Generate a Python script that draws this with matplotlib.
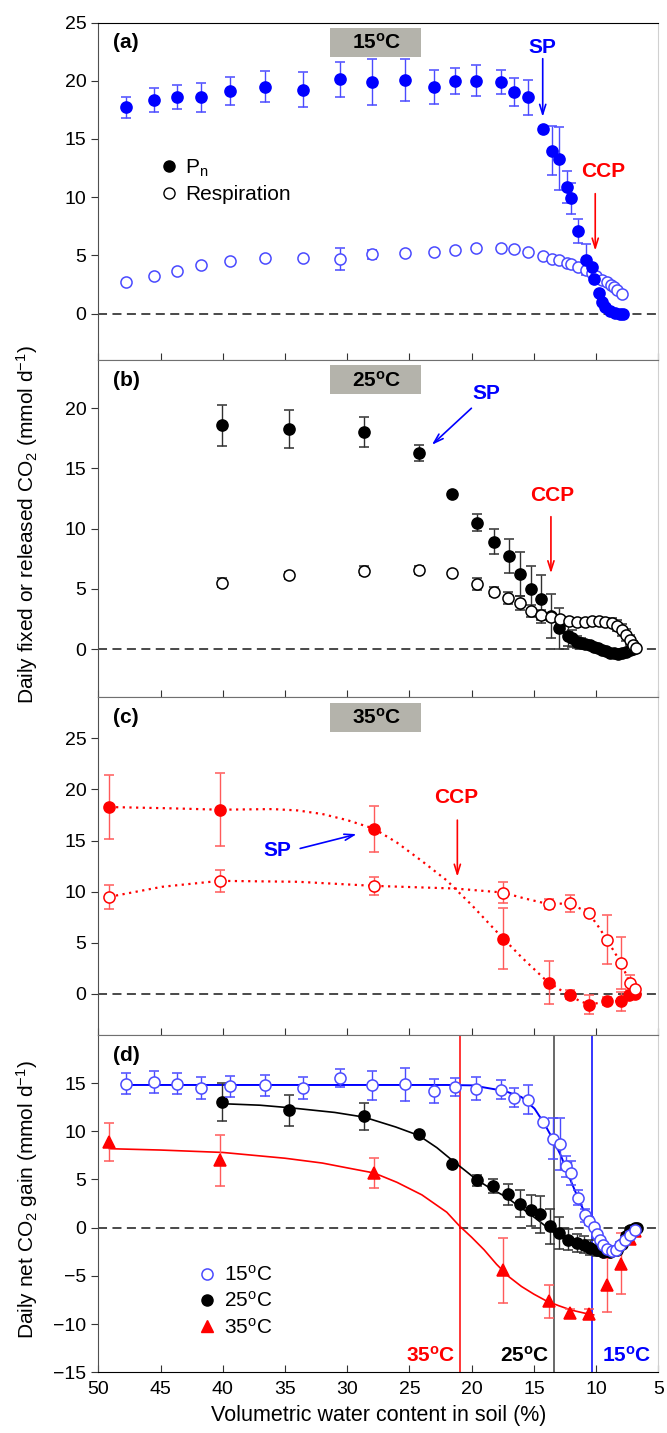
import matplotlib
matplotlib.use("Agg")
import matplotlib.pyplot as plt
from matplotlib.patches import Rectangle
from matplotlib.lines import Line2D

plt.rcParams['font.family'] = ['Liberation Sans', 'DejaVu Sans']
plt.rcParams['mathtext.fontset'] = 'custom'
plt.rcParams['mathtext.rm'] = 'Liberation Sans'
plt.rcParams['mathtext.it'] = 'Liberation Sans:italic'
plt.rcParams['mathtext.bf'] = 'Liberation Sans:bold'

# ---- (a) 15 C : Pn et respiration
a_pn_x = [47.75, 45.49, 43.65, 41.74, 39.42, 36.58, 33.58, 30.61, 27.98, 25.32, 23.06, 21.32,
          19.65, 17.67, 16.58, 15.47, 14.29, 13.55, 12.97, 12.31, 12.05, 11.47, 10.78, 10.33,
          10.15, 9.80, 9.54, 9.27, 8.88, 8.48, 8.09, 7.83]
a_pn_y = [17.72, 18.35, 18.60, 18.58, 19.12, 19.50, 19.24, 20.13, 19.90, 20.07, 19.50, 19.98,
          20.02, 19.90, 19.06, 18.57, 15.90, 13.98, 13.32, 10.89, 9.89, 7.10, 4.64, 4.00,
          3.00, 1.72, 1.00, 0.57, 0.23, 0.05, -0.06, -0.06]
a_pn_err = [0.9, 1.0, 1.0, 1.26, 1.23, 1.35, 1.48, 1.52, 1.96, 1.82, 1.46, 1.1,
            1.36, 1.0, 1.2, 1.5, 0.15, 2.1, 2.7, 1.4, 1.3, 1.0, 1.3, 0.2,
            0.2, 0.15, 0.1, 0.1, 0.1, 0.1, 0.1, 0.1]
a_r_x = [47.75, 45.49, 43.65, 41.74, 39.42, 36.58, 33.58, 30.61, 27.98, 25.32, 23.06, 21.32,
         19.65, 17.67, 16.58, 15.47, 14.29, 13.55, 12.97, 12.31, 12.05, 11.47, 10.78, 10.33,
         9.99, 9.54, 9.14, 8.82, 8.56, 8.30, 7.95]
a_r_y = [2.72, 3.24, 3.67, 4.13, 4.47, 4.76, 4.79, 4.67, 5.10, 5.16, 5.30, 5.45,
         5.64, 5.64, 5.53, 5.30, 4.98, 4.72, 4.58, 4.35, 4.24, 4.00, 3.72, 3.49,
         3.20, 2.92, 2.72, 2.49, 2.29, 2.06, 1.66]
a_r_err = [0.15, 0.15, 0.15, 0.15, 0.15, 0.15, 0.15, 0.95, 0.4, 0.2, 0.2, 0.2,
           0.2, 0.2, 0.2, 0.15, 0.15, 0.15, 0.15, 0.15, 0.15, 0.15, 0.15, 0.15,
           0.15, 0.15, 0.15, 0.15, 0.15, 0.15, 0.15]

# ---- (b) 25 C
b_pn_x = [40.1, 34.64, 28.66, 24.26, 21.56, 19.57, 18.17, 17.01, 16.08, 15.21, 14.42, 13.63,
          12.97, 12.26, 11.9, 11.52, 11.2, 10.86, 10.53, 10.2, 9.87, 9.54, 9.21, 8.88,
          8.55, 8.22, 7.89, 7.56, 7.3, 7.03]
b_pn_y = [18.59, 18.28, 18.06, 16.27, 12.89, 10.5, 8.93, 7.74, 6.25, 5.0, 4.17, 2.77,
          1.74, 1.1, 0.9, 0.63, 0.5, 0.44, 0.33, 0.22, 0.08, -0.06, -0.17, -0.28,
          -0.34, -0.39, -0.32, -0.2, -0.1, 0.0]
b_pn_err = [1.7, 1.55, 1.25, 0.65, 0.2, 0.7, 1.05, 1.45, 1.8, 1.9, 2.0, 1.85,
            1.7, 0.8, 0.7, 0.5, 0.4, 0.3, 0.3, 0.25, 0.2, 0.2, 0.2, 0.2,
            0.2, 0.2, 0.2, 0.2, 0.2, 0.2]
b_r_x = [40.1, 34.64, 28.66, 24.26, 21.56, 19.57, 18.17, 17.05, 16.08, 15.21, 14.42, 13.63,
         12.89, 12.18, 11.52, 10.91, 10.33, 9.8, 9.27, 8.74, 8.35, 7.95, 7.61, 7.3, 7.03, 6.77]
b_r_y = [5.53, 6.14, 6.53, 6.58, 6.31, 5.42, 4.78, 4.23, 3.82, 3.2, 2.85, 2.66,
         2.49, 2.35, 2.24, 2.27, 2.32, 2.35, 2.29, 2.21, 1.96, 1.6, 1.19, 0.77, 0.36, 0.08]
b_r_err = [0.4, 0.3, 0.35, 0.35, 0.2, 0.5, 0.4, 0.5, 0.6, 0.5, 0.4, 0.3,
           0.3, 0.25, 0.2, 0.2, 0.2, 0.25, 0.3, 0.4, 0.45, 0.5, 0.5, 0.4, 0.3, 0.2]

# ---- (c) 35 C
c_pn_x = [49.11, 40.24, 27.84, 17.51, 13.81, 12.1, 10.54, 9.14, 8.0, 7.34, 6.89]
c_pn_y = [18.28, 18.02, 16.16, 5.42, 1.11, -0.06, -1.04, -0.68, -0.72, -0.13, -0.03]
c_pn_err = [3.15, 3.55, 2.25, 3.0, 2.1, 0.45, 0.95, 0.4, 0.9, 0.3, 0.2]
c_r_x = [49.11, 40.24, 27.84, 17.51, 13.81, 12.1, 10.6, 9.14, 8.0, 7.3, 6.9]
c_r_y = [9.5, 11.06, 10.57, 9.92, 8.78, 8.85, 7.93, 5.32, 3.03, 1.11, 0.52]
c_r_err = [1.2, 1.05, 0.85, 1.0, 0.5, 0.85, 0.35, 2.4, 2.5, 0.7, 0.2]
# courbes pointillées
c_pn_fit_x = [49.11, 44.0, 40.24, 36.0, 34.0, 32.0, 30.0, 27.84, 26.0, 24.0, 22.0, 20.0,
              18.0, 16.0, 14.0, 12.5, 11.3, 10.54, 9.8, 9.14, 8.0, 7.34, 6.89]
c_pn_fit_y = [18.28, 18.15, 18.02, 18.08, 17.95, 17.6, 17.0, 16.16, 14.8, 13.0, 11.1, 8.7,
              6.1, 3.6, 1.3, 0.1, -0.7, -1.04, -0.88, -0.68, -0.72, -0.13, -0.03]
c_r_fit_x = [49.11, 44.88, 40.24, 33.95, 27.84, 21.32, 17.51, 15.74, 13.81, 12.97, 12.1, 10.6,
             9.8, 9.14, 8.62, 8.0, 7.56, 7.3, 6.9]
c_r_fit_y = [9.5, 10.48, 11.06, 10.97, 10.57, 10.31, 9.92, 9.34, 8.78, 8.83, 8.85, 7.93,
             6.56, 5.32, 4.28, 3.03, 1.83, 1.11, 0.52]

# ---- (d) gain net
d15_x = [47.75, 45.49, 43.65, 41.74, 39.42, 36.58, 33.58, 30.61, 27.98, 25.32, 23.06, 21.32,
         19.65, 17.67, 16.58, 15.47, 14.29, 13.5, 12.94, 12.44, 12.05, 11.47, 10.86, 10.6,
         10.2, 9.93, 9.67, 9.41, 9.09, 8.74, 8.43, 8.09, 7.69, 7.3, 6.9]
d15_y = [14.93, 15.1, 14.93, 14.48, 14.65, 14.76, 14.48, 15.52, 14.76, 14.86, 14.14, 14.59,
         14.42, 14.31, 13.49, 13.28, 10.96, 9.23, 8.71, 6.36, 5.67, 3.12, 1.28, 0.69,
         0.07, -0.62, -1.31, -1.76, -2.17, -2.42, -2.35, -1.83, -1.31, -0.79, -0.2]
d15_err = [1.1, 1.1, 1.07, 1.17, 1.1, 1.1, 1.1, 0.9, 1.5, 1.7, 1.26, 0.93,
           1.2, 1.0, 1.0, 1.5, 0.2, 2.1, 2.7, 1.1, 1.25, 0.75, 0.7, 0.4,
           0.3, 0.3, 0.3, 0.3, 0.3, 0.3, 0.3, 0.3, 0.3, 0.3, 0.3]
d25_x = [40.1, 34.64, 28.66, 24.26, 21.56, 19.61, 18.32, 17.05, 16.14, 15.27, 14.48, 13.69,
         12.97, 12.26, 11.57, 10.99, 10.46, 9.93, 9.41, 8.88, 8.35, 7.95, 7.61, 7.3, 6.9, 6.72]
d25_y = [13.03, 12.17, 11.54, 9.75, 6.57, 4.91, 4.32, 3.46, 2.49, 1.8, 1.38, 0.14,
         -0.56, -1.24, -1.59, -1.76, -2.07, -2.35, -2.53, -2.53, -2.28, -1.66, -0.9, -0.28, 0.0, 0.0]
d25_err = [1.95, 1.6, 1.4, 0.2, 0.2, 0.6, 0.75, 1.1, 1.4, 1.6, 1.9, 1.8,
           1.7, 1.1, 0.9, 0.9, 0.8, 0.6, 0.4, 0.3, 0.3, 0.3, 0.3, 0.3, 0.2, 0.2]
d35_x = [49.11, 40.24, 27.84, 17.51, 13.81, 12.1, 10.54, 9.14, 8.0, 7.3, 6.85]
d35_y = [8.88, 6.98, 5.67, -4.42, -7.64, -8.81, -8.91, -5.98, -3.73, -1.14, -0.35]
d35_err = [1.95, 2.65, 1.55, 3.37, 1.7, 0.4, 0.5, 2.8, 3.2, 0.6, 0.3]
# courbes ajustées
d15_fit_x = [47.75, 40.0, 30.0, 22.0, 19.96, 17.33, 16.0, 14.95, 14.16, 13.5, 12.84, 12.05,
             11.26, 10.46, 9.93, 9.41, 8.88, 8.35]
d15_fit_y = [14.8, 14.8, 14.8, 14.8, 14.76, 14.17, 13.55, 12.35, 10.79, 9.23, 7.5, 4.91,
             2.49, 0.42, -0.97, -2.0, -2.53, -2.6]
d25_fit_x = [40.1, 37.0, 34.64, 31.0, 28.66, 26.1, 24.26, 22.8, 21.56, 20.5, 19.61, 18.4,
             17.22, 16.3, 15.35, 14.4, 13.47, 12.6, 11.76, 10.9, 10.05, 9.4, 8.69]
d25_fit_y = [12.86, 12.7, 12.44, 11.95, 11.47, 10.44, 9.57, 8.3, 6.98, 5.9, 4.98, 4.0,
             3.18, 2.3, 1.45, 0.5, -0.45, -1.15, -1.73, -2.2, -2.53, -2.7, -2.8]
d35_fit_x = [49.11, 45.0, 40.0, 35.0, 32.0, 30.0, 27.84, 26.0, 24.0, 22.0, 21.0, 20.0,
             19.0, 18.0, 17.0, 16.0, 15.0, 14.0, 13.0, 12.0, 11.0, 10.2]
d35_fit_y = [8.19, 8.05, 7.8, 7.2, 6.7, 6.2, 5.67, 4.7, 3.4, 1.6, 0.2, -1.0,
             -2.3, -3.8, -5.1, -6.1, -6.9, -7.6, -8.1, -8.55, -8.85, -9.05]
d_vlines = [20.95, 13.4, 10.3]

BLUE = '#0000ff'
BLUE_E = '#4a4aff'
RED = '#ff0000'
RED_E = '#ff5a5a'
BLACK = '#000000'
BLACK_E = '#303030'
BOX = '#b4b3ab'
TEMP = ['15$^{\\mathbf{o}}$C', '25$^{\\mathbf{o}}$C', '35$^{\\mathbf{o}}$C']


def serie(ax, x, y, err, col, ecol, marker='o', filled=True, z=3):
    ax.errorbar(x, y, yerr=err, fmt=marker, ms=8, mfc=col if filled else 'white', mec=col,
                mew=1.1, ecolor=ecol, elinewidth=1, capsize=3.5, capthick=1, zorder=z)


def setup(ax, ylim, yticks, label):
    ax.set_xlim(50, 5)
    ax.set_ylim(*ylim)
    ax.set_xticks(range(50, 4, -5))
    ax.set_yticks(yticks)
    ax.tick_params(axis='x', direction='in', length=5, labelsize=14, colors='#333333',
                   labelcolor='black', labelbottom=False)
    ax.tick_params(axis='y', direction='out', length=5, labelsize=14, colors='#333333',
                   labelcolor='black')
    ax.axhline(0, color='#3a3a3a', lw=1.3, ls=(0, (5, 3)), zorder=1)
    ax.spines['left'].set_color('#505050')
    ax.spines['right'].set_color('#d0d0d0')
    ax.spines['top'].set_color('#707070')
    ax.spines['bottom'].set_color('#707070')
    ax.text(0.027, 0.94, label, transform=ax.transAxes, fontsize=15, fontweight='bold',
            va='center', ha='left')


def temp_box(ax, txt):
    ax.add_patch(Rectangle((0.413, 0.898), 0.164, 0.087, transform=ax.transAxes,
                           facecolor=BOX, edgecolor='none', zorder=2))
    ax.text(0.497, 0.94, txt, transform=ax.transAxes, fontsize=15, fontweight='bold',
            ha='center', va='center', zorder=3)


def fleche(ax, txt, col, xy_txt, xy0, xy1):
    ax.text(xy_txt[0], xy_txt[1], txt, color=col, fontsize=15, fontweight='bold',
            ha='center', va='center')
    ax.annotate('', xy=xy1, xytext=xy0,
                arrowprops=dict(arrowstyle='->,head_length=0.7,head_width=0.22', color=col,
                                lw=1.2, shrinkA=0, shrinkB=0))


def main():
    fig, axs = plt.subplots(4, 1, figsize=(6.67, 14.33), dpi=100,
                            gridspec_kw=dict(hspace=0))
    fig.subplots_adjust(left=0.1474, right=0.987, top=0.9842, bottom=0.0424)
    axa, axb, axc, axd = axs

    # (a)
    setup(axa, (-4, 25), range(0, 26, 5), '(a)')
    axa.spines['top'].set_color('black')
    serie(axa, a_r_x, a_r_y, a_r_err, BLUE_E, BLUE_E, filled=False)
    serie(axa, a_pn_x, a_pn_y, a_pn_err, BLUE, BLUE_E)
    temp_box(axa, TEMP[0])
    fleche(axa, 'SP', BLUE, (14.35, 22.9), (14.29, 21.9), (14.29, 16.9))
    fleche(axa, 'CCP', RED, (9.46, 12.18), (10.07, 10.3), (10.07, 5.4))
    hd = [Line2D([], [], ls='none', marker='o', ms=8, color='black'),
          Line2D([], [], ls='none', marker='o', ms=8, mfc='white', mec='black', mew=1)]
    axa.legend(hd, ['P$_{\\rm n}$', 'Respiration'], loc='upper left',
               bbox_to_anchor=(0.107, 0.60), frameon=False, fontsize=15, handlelength=1.0,
               handletextpad=0.3, labelspacing=0.3, borderpad=0, borderaxespad=0)

    # (b)
    setup(axb, (-4, 24), range(0, 21, 5), '(b)')
    serie(axb, b_pn_x, b_pn_y, b_pn_err, BLACK, BLACK_E)
    serie(axb, b_r_x, b_r_y, b_r_err, BLACK, BLACK_E, filled=False, z=4)
    temp_box(axb, TEMP[1])
    fleche(axb, 'SP', BLUE, (18.83, 21.24), (20.02, 20.0), (23.2, 16.96))
    fleche(axb, 'CCP', RED, (13.5, 12.8), (13.63, 11.0), (13.63, 6.3))

    # (c)
    setup(axc, (-4, 29), range(0, 26, 5), '(c)')
    axc.plot(c_pn_fit_x, c_pn_fit_y, color=RED, lw=1.6, ls=(0, (1, 2)), zorder=2)
    axc.plot(c_r_fit_x, c_r_fit_y, color=RED, lw=1.6, ls=(0, (1, 2)), zorder=2)
    serie(axc, c_pn_x, c_pn_y, c_pn_err, RED, RED_E)
    serie(axc, c_r_x, c_r_y, c_r_err, RED, RED_E, filled=False)
    temp_box(axc, TEMP[2])
    fleche(axc, 'SP', BLUE, (35.6, 14.0), (33.78, 14.23), (29.24, 15.63))
    fleche(axc, 'CCP', RED, (21.22, 19.2), (21.15, 17.0), (21.15, 11.46))

    # (d)
    setup(axd, (-15, 20), range(-15, 16, 5), '(d)')
    axd.spines['bottom'].set_color('black')
    axd.tick_params(axis='x', labelbottom=True, pad=6)
    for xv, col in zip(d_vlines, [RED, '#404040', BLUE]):
        axd.axvline(xv, color=col, lw=1.1, zorder=1)
    axd.plot(d35_fit_x, d35_fit_y, color=RED, lw=1.2, zorder=2)
    axd.plot(d25_fit_x, d25_fit_y, color=BLACK, lw=1.2, zorder=2)
    axd.plot(d15_fit_x, d15_fit_y, color=BLUE, lw=1.4, zorder=2)
    serie(axd, d35_x, d35_y, d35_err, RED, RED_E, marker='^')
    serie(axd, d25_x, d25_y, d25_err, BLACK, BLACK_E)
    serie(axd, d15_x, d15_y, d15_err, BLUE_E, BLUE_E, filled=False, z=4)
    axd.text(d_vlines[0] + 0.35, -13.24, TEMP[2], color=RED, fontsize=15, fontweight='bold',
             ha='right', va='center')
    axd.text(d_vlines[1] + 0.35, -13.24, TEMP[1], color=BLACK, fontsize=15, fontweight='bold',
             ha='right', va='center')
    axd.text(d_vlines[2] - 0.8, -13.24, TEMP[0], color=BLUE, fontsize=15, fontweight='bold',
             ha='left', va='center')
    hd = [Line2D([], [], ls='none', marker='o', ms=8, mfc='white', mec=BLUE_E, mew=1.1),
          Line2D([], [], ls='none', marker='o', ms=8, color=BLACK),
          Line2D([], [], ls='none', marker='^', ms=8, color=RED)]
    axd.legend(hd, ['15$^{\\rm o}$C', '25$^{\\rm o}$C', '35$^{\\rm o}$C'], loc='upper left',
               bbox_to_anchor=(0.175, 0.318), frameon=False, fontsize=15, handlelength=1.0,
               handletextpad=0.35, labelspacing=0.3, borderpad=0, borderaxespad=0)
    axd.set_xlabel('Volumetric water content in soil (%)', fontsize=15.5, labelpad=5)

    fig.text(0.04, 0.634, 'Daily fixed or released CO$_2$ (mmol d$^{-1}$)', rotation=90,
             fontsize=15, ha='center', va='center')
    fig.text(0.04, 0.1626, 'Daily net CO$_2$ gain (mmol d$^{-1}$)', rotation=90,
             fontsize=15, ha='center', va='center')

    plt.savefig('out.png', dpi=100)


if __name__ == "__main__":
    main()
